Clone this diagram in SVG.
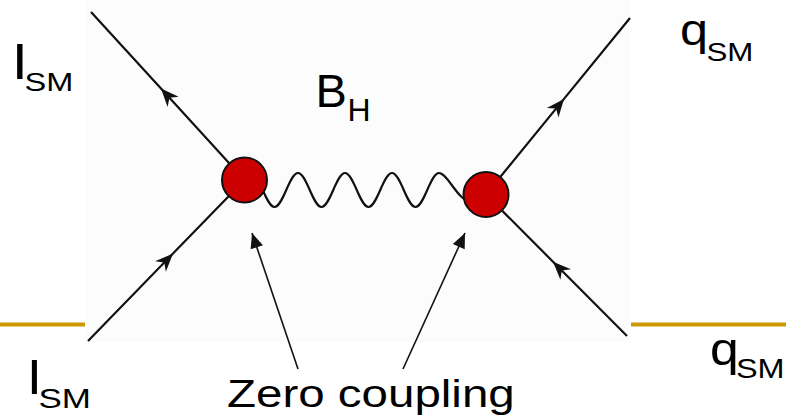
<svg xmlns="http://www.w3.org/2000/svg" width="786" height="416" viewBox="0 0 786 416">
  <style>
    .bg { fill: #fcfcfc; }
    .fermion { fill: none; stroke: #111; stroke-width: 2.2; marker-mid: url(#farrow); }
    .boson { fill: none; stroke: #111; stroke-width: 2.2; }
    .pointer { fill: none; stroke: #111; stroke-width: 1.6; marker-end: url(#parrow); }
    .gold { stroke: #cc9900; stroke-width: 4; }
    .vertex { fill: #cc0000; stroke: #111; stroke-width: 2; }
    .lbl { font-family: "Liberation Sans", Arial, sans-serif; fill: #000; }
  </style>
  <defs>
    <marker id="farrow" markerUnits="userSpaceOnUse" viewBox="-20 -10 24 20" markerWidth="24" markerHeight="20" refX="0" refY="0" orient="auto">
      <path d="M0,0 L-18,-7.5 L-12.5,0 L-18,7.5 Z" fill="#111"/>
    </marker>
    <marker id="parrow" markerUnits="userSpaceOnUse" viewBox="-18 -8 20 16" markerWidth="20" markerHeight="16" refX="0" refY="0" orient="auto">
      <path d="M0,0 L-15,-6.5 L-15,6.5 Z" fill="#111"/>
    </marker>
  </defs>

  <rect class="bg" x="86" y="0" width="545" height="342"/>

  <g id="decor">
    <line class="gold" x1="0" y1="324.5" x2="85" y2="324.5"/>
    <line class="gold" x1="631" y1="324.5" x2="786" y2="324.5"/>
  </g>

  <g id="connectors">
    <path class="fermion" d="M244.5,180 L161,88.6 L91,12"/>
    <path class="fermion" d="M88,341 L173,253.6 L244.5,180"/>
    <path class="fermion" d="M486,194.5 L564,98.9 L630,18"/>
    <path class="fermion" d="M627,336 L553,261.7 L486,194.5"/>
    <path class="boson" d="M251,173 C259.56,173 265.94,207 274.5,207 S289.44,173 298,173 S312.94,207 321.5,207 S336.44,173 345,173 S359.94,207 368.5,207 S383.44,173 392,173 S406.94,207 415.5,207 S430.44,173 439,173 C447.56,173 458,201 470,201"/>
    <path class="pointer" d="M298,369 L252,233"/>
    <path class="pointer" d="M403,369 L465,233"/>
  </g>

  <g id="vertex-left">
    <circle class="vertex" cx="244.5" cy="180" r="22.5"/>
  </g>
  <g id="vertex-right">
    <circle class="vertex" cx="486" cy="194.5" r="22.5"/>
  </g>

  <g id="label-l-top">
    <text class="lbl" font-size="49" transform="translate(13,79) scale(1.25,1)">l</text>
    <text class="lbl" font-size="26" transform="translate(24.5,91) scale(1.25,1)">SM</text>
  </g>
  <g id="label-l-bottom">
    <text class="lbl" font-size="46" transform="translate(28,394) scale(1.25,1)">l</text>
    <text class="lbl" font-size="28" transform="translate(38.4,408) scale(1.25,1)">SM</text>
  </g>
  <g id="label-q-top">
    <text class="lbl" font-size="45" transform="translate(680,45) scale(1.12,1)">q</text>
    <text class="lbl" font-size="25" transform="translate(706.5,61) scale(1.25,1)">SM</text>
  </g>
  <g id="label-q-bottom">
    <text class="lbl" font-size="47" transform="translate(710,365) scale(1.1,1)">q</text>
    <text class="lbl" font-size="27" transform="translate(736,378) scale(1.2,1)">SM</text>
  </g>
  <g id="label-bh">
    <text class="lbl" font-size="47" x="315.6" y="107">B</text>
    <text class="lbl" font-size="32" x="347.4" y="121">H</text>
  </g>
  <g id="label-zero">
    <text class="lbl" font-size="38" transform="translate(227,407) scale(1.25,1)">Zero coupling</text>
  </g>
</svg>
